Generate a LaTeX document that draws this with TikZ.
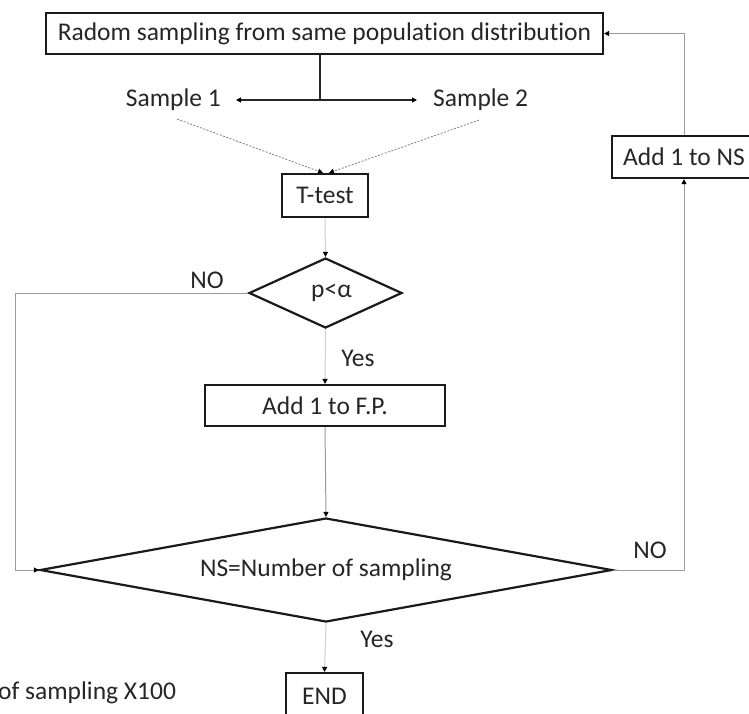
\documentclass[tikz,border=0pt]{standalone}
\usepackage{fontspec}
\setmainfont[Ligatures=NoCommon]{Carlito}
\usetikzlibrary{shapes.geometric,arrows.meta}
\definecolor{boxline}{HTML}{1A1A1A}
\definecolor{txt}{HTML}{262626}
\definecolor{conn}{HTML}{9A9A9A}
\definecolor{connlight}{HTML}{CFCFCF}
\tikzset{
  box/.style={draw=boxline, line width=2.2pt, inner sep=0pt, text=txt, font=\fontsize{25.5}{30}\selectfont},
  decision/.style={draw=boxline, line width=2.2pt, diamond, aspect=2, inner sep=0pt, text=txt, font=\fontsize{25.5}{30}\selectfont},
  lbl/.style={inner sep=0pt, text=txt, font=\fontsize{25.5}{30}\selectfont},
  tip/.style={-{Triangle[length=5pt,width=5pt,color=black]}},
  connector/.style={tip, draw=conn, line width=1pt},
  lightconn/.style={tip, draw=connlight, line width=1pt},
  dotconn/.style={tip, draw=gray, line width=0.8pt, dash pattern=on 2pt off 1.5pt},
  darkconn/.style={draw=black!85, line width=1.3pt}
}
\begin{document}
\begin{tikzpicture}[x=1pt,y=-1pt]
\useasboundingbox[fill=white] (0,0) rectangle (749,713);

% nodes
\node[box, minimum width=557pt, minimum height=41pt] (top) at (324.5,33.5) {Radom sampling from same population distribution};
\coordinate (split) at (320,100);
\node[lbl, anchor=east, inner xsep=15pt] (s1) at (236,100) {Sample 1};
\node[lbl, anchor=west, inner xsep=16pt] (s2) at (417,100) {Sample 2};
\coordinate (d1) at (177,119);
\coordinate (d2) at (479,120);
\node[box, minimum width=86pt, minimum height=43pt] (ttest) at (325,195.5) {T-test};
\node[decision, minimum width=153pt, minimum height=70pt] (dec1) at (325.5,293) {\hspace{12pt}p<α};
\node[box, minimum width=240pt, minimum height=41pt] (fp) at (325,405.5) {Add 1 to F.P.};
\node[decision, aspect=5.5, minimum width=572pt, minimum height=104pt] (dec2) at (326,570) {NS=Number of sampling};
\node[box, minimum width=144pt, minimum height=42pt] (ns) at (684,157) {Add 1 to NS};
\node[box, minimum width=77pt, minimum height=46pt] (end) at (324.5,696) {END\hspace{10pt}};

% labels
\node[lbl] (no1) at (207,280) {NO};
\node[lbl] (yes1) at (358,358) {Yes};
\node[lbl] (no2) at (650,550) {NO};
\node[lbl] (yes2) at (377,639) {Yes};
\node[lbl, anchor=west] (foot) at (-2,693) {of sampling X100};
\coordinate (lx) at (15,0);

% connectors
\draw[darkconn] (top.south -| split) -- (split);
\draw[darkconn, tip] (split) -- (s1.east);
\draw[darkconn, tip] (split) -- (s2.west);
\draw[dotconn] (d1) -- ([xshift=-2pt]ttest.north);
\draw[dotconn] (d2) -- ([xshift=4pt]ttest.north);
\draw[lightconn] (ttest.south) -- (dec1.north);
\draw[lightconn] (dec1.south) -- (fp.north);
\draw[connector] (fp.south) -- (dec2.north);
\draw[connector] (dec1.west) -- (dec1.west -| lx) -- (lx |- dec2.west) -- (dec2.west);
\draw[connector] (dec2.east) -| (ns.south);
\draw[connector] (ns.north) |- (top.east);
\draw[lightconn] (dec2.south) -- (end.north);
\end{tikzpicture}
\end{document}
